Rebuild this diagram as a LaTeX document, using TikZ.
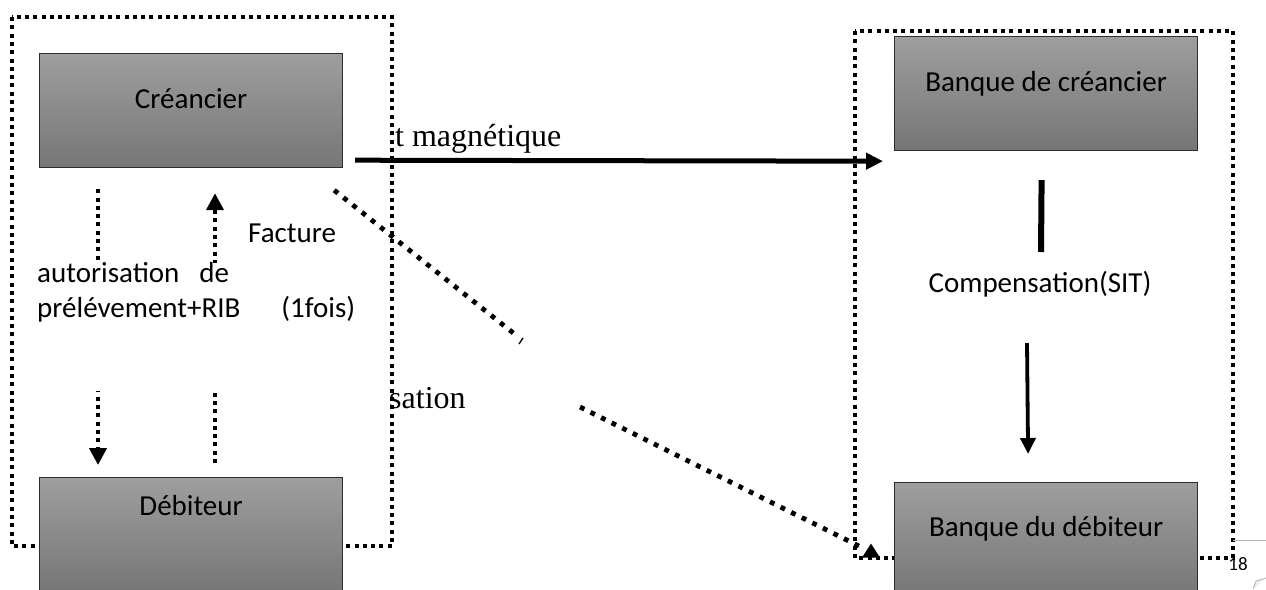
\documentclass[tikz,border=0pt]{standalone}
\usepackage{fontspec}
\setmainfont{Carlito}
\newfontfamily\tnr{Liberation Serif}
\usetikzlibrary{arrows.meta}
\definecolor{boxtop}{RGB}{158,158,158}
\definecolor{boxbot}{RGB}{118,118,118}
\definecolor{boxline}{RGB}{45,45,45}
\begin{document}
\begin{tikzpicture}[x=1pt,y=-1pt,
    box/.style={draw=boxline,line width=1.2pt,top color=boxtop,bottom color=boxbot,minimum width=303pt,minimum height=114pt,anchor=north west,inner sep=0pt},
    lbl/.style={anchor=base,inner sep=0pt,font=\fontsize{29}{35}\selectfont},
    serif/.style={anchor=base west,inner sep=0pt,font=\tnr\fontsize{32}{38}\selectfont},
    frame/.style={line width=4pt,dash pattern=on 4pt off 4.3pt},
    dots/.style={line width=4pt,dash pattern=on 4pt off 4.3pt,-{Triangle[length=17pt,width=17pt]}},
    slant/.style={line width=4.8pt,dash pattern=on 4.8pt off 7pt}]
        \useasboundingbox (0,0) rectangle (1266,589);
        \clip (0,0) rectangle (1266,589);
        \draw [frame] (12,17) rectangle (392,546);
        \draw [frame] (855,31) rectangle (1233,558);
        \node [box] (creancier) at (39,53) {};
        \node [box] (debiteur) at (39,477) {};
        \node [box] (bcreancier) at (894,36) {};
        \node [box] (bdebiteur) at (894,482) {};
        \node [lbl] (tcreancier) at ([yshift=-55pt]creancier.north) {Créancier};
        \node [lbl] (tdebiteur) at ([yshift=-38pt]debiteur.north) {Débiteur};
        \node [lbl] (tbcreancier) at ([yshift=-55pt]bcreancier.north) {Banque de créancier};
        \node [lbl] (tbdebiteur) at ([yshift=-54pt]bdebiteur.north) {Banque du débiteur};
        \draw [dots] ([xshift=59pt,yshift=-21pt]creancier.south west) -- ([xshift=59pt,yshift=12pt]debiteur.north west);
        \draw [dots] ([xshift=176pt,yshift=14pt]debiteur.north west) -- ([xshift=176pt,yshift=-25pt]creancier.south west);
        \node [fill=white,inner sep=0pt,minimum width=340pt,minimum height=128pt,anchor=north west] (autobg) at (25,263) {};
        \node [lbl,anchor=base west] (tauto) at (37,282) {autorisation\hspace{20pt}de};
        \node [lbl,anchor=base west] (tprelev) at (37,317) {prélévement+RIB\hspace{41pt}(1fois)};
        \node [lbl,anchor=base west] (tfacture) at (248,242) {Facture};
        \draw [line width=5pt,-{Triangle[length=17pt,width=16pt]}] ([xshift=12pt,yshift=8pt]creancier.south east) -- ([xshift=-11pt,yshift=-10pt]bcreancier.south west);
        \node [serif] (tmagn) at (395,146) {t magnétique};
        \coordinate (cut1) at (517,336);
        \draw [slant] ([xshift=-9pt,yshift=-22pt]creancier.south east) -- (cut1);
        \draw [line width=1.3pt] ([xshift=6pt,yshift=-2pt]cut1) -- ++(-4,6);
        \node [serif] (tsation) at (389,408) {sation};
        \coordinate (cut2) at (580,407);
        \draw [slant] (cut2) -- ([xshift=-34pt,yshift=-7pt]bdebiteur.west);
        \fill ([xshift=-32pt,yshift=-18pt]bdebiteur.west) -- ++(9,-14) -- ++(9,14) -- cycle;
        \coordinate (link) at (1041,252);
        \draw [line width=6pt] ([xshift=-4.5pt,yshift=-29pt]bcreancier.south) -- (link);
        \node [lbl] (tcomp) at (1040,292) {Compensation(SIT)};
        \coordinate (down) at (1027,343);
        \draw [line width=3.8pt,-{Triangle[length=16pt,width=15pt]}] (down) -- ([xshift=-18pt,yshift=28pt]bdebiteur.north);
        \coordinate (edge) at (1233,540);
        \draw [gray!55,line width=0.8pt] (edge) -- ++(33,0);
        \node [anchor=base,inner sep=0pt,font=\fontsize{19}{22}\selectfont] (pagenum) at (1238,570) {18};
        \draw [gray!60,fill=gray!15,line width=0.8pt] (1253,589) -- (1256,581) -- (1266,578);
\end{tikzpicture}
\end{document}
